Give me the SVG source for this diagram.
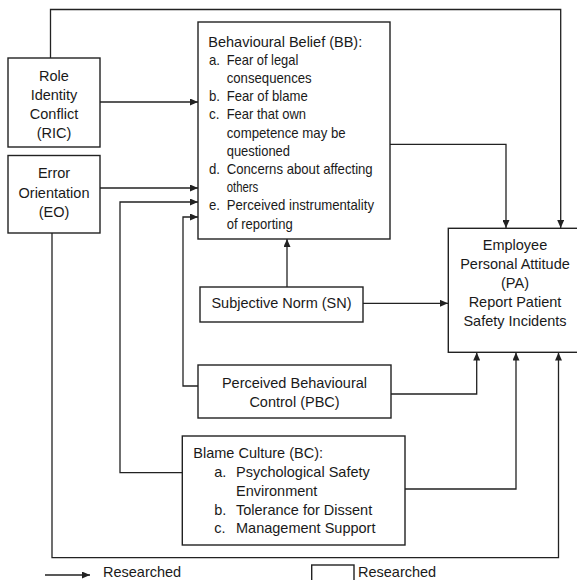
<svg xmlns="http://www.w3.org/2000/svg" width="577" height="580" viewBox="0 0 577 580">
<style>
  .box { fill: #ffffff; stroke: #222222; stroke-width: 1.4; }
  .ln { fill: none; stroke: #222222; stroke-width: 1.3; marker-end: url(#arr); }
  text { font-family: "Liberation Sans", Arial, sans-serif; font-size: 14.5px; fill: #1a1a1a; }
  .c { text-anchor: middle; }
</style>
<defs>
  <marker id="arr" markerUnits="userSpaceOnUse" markerWidth="8" markerHeight="7" refX="8" refY="3.5" orient="auto">
    <path d="M0,0 L8,3.5 L0,7 z" fill="#222222"/>
  </marker>
</defs>
<rect width="577" height="580" fill="#ffffff"/>

<g id="connectors">
  <path class="ln" d="M50.5,58 V9.5 H560.7 V228"/>
  <path class="ln" d="M100,102 H198"/>
  <path class="ln" d="M100,188 H198"/>
  <path class="ln" d="M182,472.7 H120 V202 H198"/>
  <path class="ln" d="M198,386 H183 V217 H198"/>
  <path class="ln" d="M287,287 V239"/>
  <path class="ln" d="M363,303.3 H448"/>
  <path class="ln" d="M390,144.3 H506 V228"/>
  <path class="ln" d="M391,394 H476.7 V352.5"/>
  <path class="ln" d="M405,489 H516 V352.5"/>
  <path class="ln" d="M52,233 V557.7 H558.5 V352.5"/>
</g>

<g id="RIC">
  <rect class="box" x="8" y="58" width="92" height="89"/>
  <text class="c" x="54" y="80.5">Role</text>
  <text class="c" x="54" y="99.5">Identity</text>
  <text class="c" x="54" y="118.5">Conflict</text>
  <text class="c" x="54" y="137.5">(RIC)</text>
</g>

<g id="EO">
  <rect class="box" x="8" y="155.5" width="92" height="77.5"/>
  <text class="c" x="54" y="178.3">Error</text>
  <text class="c" x="54" y="197.6">Orientation</text>
  <text class="c" x="54" y="216.9">(EO)</text>
</g>

<g id="BB">
  <rect class="box" x="198" y="22" width="192" height="217"/>
  <text x="208.3" y="46.5">Behavioural Belief (BB):</text>
  <text x="209" y="64.7" textLength="11" lengthAdjust="spacingAndGlyphs">a.</text>
  <text x="226.7" y="64.7" textLength="71.6" lengthAdjust="spacingAndGlyphs">Fear of legal</text>
  <text x="226.7" y="82.9" textLength="85" lengthAdjust="spacingAndGlyphs">consequences</text>
  <text x="209" y="101.1" textLength="11" lengthAdjust="spacingAndGlyphs">b.</text>
  <text x="226.7" y="101.1" textLength="81" lengthAdjust="spacingAndGlyphs">Fear of blame</text>
  <text x="209" y="119.3" textLength="10.5" lengthAdjust="spacingAndGlyphs">c.</text>
  <text x="226.7" y="119.3" textLength="79.3" lengthAdjust="spacingAndGlyphs">Fear that own</text>
  <text x="226.7" y="137.5" textLength="119" lengthAdjust="spacingAndGlyphs">competence may be</text>
  <text x="226.7" y="155.7" textLength="63.3" lengthAdjust="spacingAndGlyphs">questioned</text>
  <text x="209" y="173.9" textLength="11" lengthAdjust="spacingAndGlyphs">d.</text>
  <text x="226.7" y="173.9" textLength="146" lengthAdjust="spacingAndGlyphs">Concerns about affecting</text>
  <text x="226.7" y="192.1" textLength="31.6" lengthAdjust="spacingAndGlyphs">others</text>
  <text x="209" y="210.3" textLength="11" lengthAdjust="spacingAndGlyphs">e.</text>
  <text x="226.7" y="210.3" textLength="147.3" lengthAdjust="spacingAndGlyphs">Perceived instrumentality</text>
  <text x="226.7" y="228.5" textLength="66" lengthAdjust="spacingAndGlyphs">of reporting</text>
</g>

<g id="SN">
  <rect class="box" x="200" y="287" width="163" height="35"/>
  <text class="c" x="281.5" y="308.3">Subjective Norm (SN)</text>
</g>

<g id="PBC">
  <rect class="box" x="198" y="365" width="193" height="53"/>
  <text class="c" x="294.5" y="388.3">Perceived Behavioural</text>
  <text class="c" x="294.5" y="406.7">Control (PBC)</text>
</g>

<g id="BC">
  <rect class="box" x="182.3" y="436" width="222.7" height="109"/>
  <text x="193.3" y="458.3">Blame Culture (BC):</text>
  <text x="214.3" y="477.3">a.</text><text x="236" y="477.3">Psychological Safety</text>
  <text x="236" y="495.9">Environment</text>
  <text x="214.3" y="514.8">b.</text><text x="236" y="514.8">Tolerance for Dissent</text>
  <text x="214.3" y="533.4">c.</text><text x="236" y="533.4">Management Support</text>
</g>

<g id="PA">
  <rect class="box" x="448.3" y="228.3" width="150" height="124"/>
  <text class="c" x="515" y="250">Employee</text>
  <text class="c" x="515" y="269">Personal Attitude</text>
  <text class="c" x="515" y="288.3">(PA)</text>
  <text class="c" x="515" y="307.3">Report Patient</text>
  <text class="c" x="515" y="326.3">Safety Incidents</text>
</g>

<g id="legend">
  <path class="ln" d="M45,575 H90"/>
  <text x="103" y="577.3">Researched</text>
  <rect class="box" x="311.7" y="565" width="42.3" height="30"/>
  <text x="358" y="577.3">Researched</text>
</g>
</svg>
